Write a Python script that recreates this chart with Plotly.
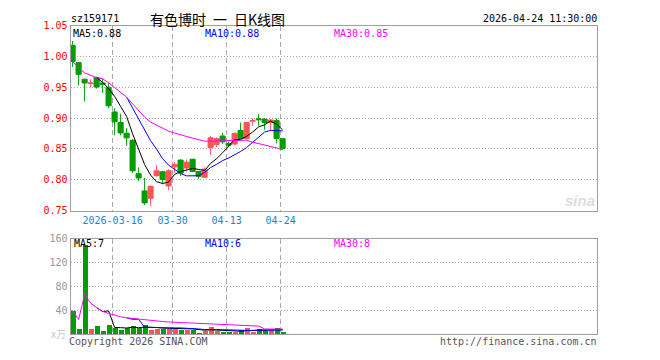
import plotly.graph_objects as go
import pandas as pd

# ---------------- data ----------------
dates = ["03-05", "03-06", "03-09", "03-10", "03-11", "03-12", "03-13", "03-16", "03-17", "03-18",
         "03-19", "03-20", "03-23", "03-24", "03-25", "03-26", "03-27", "03-30", "03-31", "04-01",
         "04-02", "04-03", "04-07", "04-08", "04-09", "04-10", "04-13", "04-14", "04-15", "04-16",
         "04-17", "04-20", "04-21", "04-22", "04-23", "04-24"]
opens = [1.018, 0.990, 0.963, 0.956, 0.966, 0.957, 0.950, 0.910, 0.893, 0.8755,
         0.864, 0.810, 0.782, 0.770, 0.8068, 0.813, 0.790, 0.821, 0.832, 0.819,
         0.8333, 0.8135, 0.804, 0.8526, 0.857, 0.871, 0.859, 0.858, 0.880, 0.867,
         0.895, 0.899, 0.8984, 0.893, 0.896, 0.8667]
highs = [1.025, 0.991, 0.964, 0.963, 0.967, 0.964, 0.958, 0.916, 0.907, 0.884,
         0.866, 0.820, 0.803, 0.790, 0.824, 0.8146, 0.817, 0.829, 0.833, 0.833,
         0.834, 0.814, 0.820, 0.871, 0.869, 0.876, 0.862, 0.877, 0.893, 0.894,
         0.900, 0.907, 0.900, 0.898, 0.900, 0.867]
lows = [0.983, 0.953, 0.927, 0.950, 0.948, 0.941, 0.916, 0.872, 0.872, 0.855,
        0.811, 0.798, 0.759, 0.758, 0.805, 0.7927, 0.783, 0.811, 0.806, 0.8135,
        0.8125, 0.8016, 0.803, 0.840, 0.853, 0.858, 0.853, 0.856, 0.866, 0.865,
        0.8875, 0.8875, 0.881, 0.880, 0.859, 0.849]
closes = [0.992, 0.971, 0.957, 0.957, 0.9505, 0.955, 0.920, 0.894, 0.876, 0.868,
          0.8146, 0.803, 0.7625, 0.7896, 0.8146, 0.8005, 0.8146, 0.825, 0.811, 0.8286,
          0.8135, 0.8057, 0.8172, 0.868, 0.8667, 0.8615, 0.856, 0.875, 0.867, 0.893,
          0.896, 0.8975, 0.893, 0.897, 0.867, 0.851]
volumes = [39.5, 9, 150, 9, 14, 6, 15, 10.5, 7.6, 11,
           13.5, 10.8, 15, 7, 8.5, 8.3, 8.5, 11, 8, 8,
           7.5, 2.2, 6, 11.5, 5, 3.6, 4.2, 4.3, 6.6, 10,
           4.3, 9.5, 6.5, 6.5, 11, 3.6]

price_ticks = [0.75, 0.80, 0.85, 0.90, 0.95, 1.00, 1.05]
price_ticktext = ["0.75", "0.80", "0.85", "0.90", "0.95", "1.00", "1.05"]
vol_ticks = [40, 80, 120, 160]
vol_ticktext = ["40", "80", "120", "160"]
date_tick_days = ["03-16", "03-30", "04-13", "04-24"]
date_tick_text = ["2026-03-16", "03-30", "04-13", "04-24"]

code = "sz159171"
title = "有色博时\u2002一\u2002日K线图"
stamp = "2026-04-24 11:30:00"
ma_labels = ["MA5:0.88", "MA10:0.88", "MA30:0.85"]
vol_ma_labels = ["MA5:7", "MA10:6", "MA30:8"]

# ---------------- derived ----------------
xs = list(range(len(dates)))
cs = pd.Series(closes)
ma5 = cs.rolling(5).mean()
ma10 = cs.rolling(10).mean()
ma30 = cs.rolling(30, min_periods=1).mean()
vs = pd.Series(volumes)
vma5 = vs.rolling(5).mean()
vma10 = vs.rolling(10).mean()
vma30 = vs.rolling(30, min_periods=1).mean()

RED = "#ff5555"
GREEN = "#009c00"
vol_colors = [RED if c >= o else GREEN for o, c in zip(opens, closes)]
tickpos = [dates.index(d) - 0.33 for d in date_tick_days]

W, H = 660, 360
def px(x):
    return x / W
def py(y):
    return 1 - y / H

MONO = "DejaVu Sans Mono"

fig = go.Figure()
fig.add_trace(go.Candlestick(
    x=xs, open=opens, high=highs, low=lows, close=closes,
    increasing=dict(line=dict(color=RED, width=1), fillcolor=RED),
    decreasing=dict(line=dict(color=GREEN, width=1), fillcolor=GREEN),
    whiskerwidth=0, hoverinfo="skip", showlegend=False, xaxis="x", yaxis="y"))
for s, col in [(ma5, "#000000"), (ma10, "#0000ff"), (ma30, "#ff00ff")]:
    fig.add_trace(go.Scatter(x=xs, y=s, mode="lines", line=dict(color=col, width=1),
                             hoverinfo="skip", showlegend=False, xaxis="x", yaxis="y"))

fig.add_trace(go.Bar(x=xs, y=volumes, marker=dict(color=vol_colors, line=dict(width=0)),
                     width=0.83, hoverinfo="skip", showlegend=False, xaxis="x2", yaxis="y2"))
for s, col in [(vma5, "#000000"), (vma10, "#0000ff"), (vma30, "#ff00ff")]:
    fig.add_trace(go.Scatter(x=xs, y=s, mode="lines", line=dict(color=col, width=1),
                             hoverinfo="skip", showlegend=False, xaxis="x2", yaxis="y2"))

xr = [-0.35, 87.4]
box_col = "#a0a0a0"
grid_col = "#a8a8a8"
common_x = dict(range=xr, showline=True, mirror=True, linecolor=box_col, linewidth=1,
                showgrid=True, gridcolor=grid_col, griddash="5px,3px", gridwidth=1,
                tickmode="array", tickvals=tickpos, ticks="", zeroline=False, fixedrange=True)
fig.update_layout(
    width=W, height=H, margin=dict(l=0, r=0, t=0, b=0),
    paper_bgcolor="white", plot_bgcolor="white",
    boxgap=0.15, boxgroupgap=0, bargap=0,
    xaxis=dict(domain=[px(70.5), px(597)], anchor="y", rangeslider=dict(visible=False),
               ticktext=date_tick_text, tickfont=dict(family=MONO, size=10, color="#1a86d0"),
               **common_x),
    yaxis=dict(domain=[py(211.7), py(20.3)], anchor="x", range=[0.75, 1.05],
               showline=True, mirror=True, linecolor=box_col, linewidth=1,
               showgrid=True, gridcolor=grid_col, griddash="1px,2px", gridwidth=1,
               tickmode="array", tickvals=price_ticks, ticktext=price_ticktext,
               tickfont=dict(family=MONO, size=10, color="#ff0000"), ticks="",
               zeroline=False, fixedrange=True),
    xaxis2=dict(domain=[px(70.5), px(597)], anchor="y2", showticklabels=False, **common_x),
    yaxis2=dict(domain=[py(339.3), py(240.7)], anchor="x2", range=[0, 160],
                showline=True, mirror=True, linecolor=box_col, linewidth=1,
                showgrid=True, gridcolor=grid_col, griddash="1px,2px", gridwidth=1,
                tickmode="array", tickvals=vol_ticks, ticktext=vol_ticktext,
                tickfont=dict(family=MONO, size=10, color="#999999"), ticks="",
                zeroline=False, fixedrange=True),
)

def ann(text, x, y, xanchor="left", size=10, color="#000", family=MONO, **kw):
    fig.add_annotation(text=text, x=px(x), y=py(y), xref="paper", yref="paper",
                       xanchor=xanchor, yanchor="middle", showarrow=False,
                       font=dict(family=family, size=size, color=color), borderpad=0, **kw)

ann(code, 70, 13)
ann(title, 149, 13, size=14, family="Noto Sans CJK SC")
ann(stamp, 598, 13, xanchor="right")
ann(ma_labels[0], 72, 28)
ann(ma_labels[1], 204, 28, color="#0000ff")
ann(ma_labels[2], 333, 28, color="#ff00ff")
ann(vol_ma_labels[0], 73, 246)
ann(vol_ma_labels[1], 204, 246, color="#0000ff")
ann(vol_ma_labels[2], 333, 246, color="#ff00ff")
ann("x万", 67, 339, xanchor="right", color="#c8c8c8", family="Noto Sans CJK SC")
ann("Copyright 2026 SINA.COM", 68, 347, color="#555555")
ann("http://finance.sina.com.cn", 598, 347, xanchor="right", color="#555555")
ann("<b><i>sina</i></b>", 596, 201, xanchor="right", size=15, color="#dcdcdc", family="Arial")

fig.write_html("out.html", config={"displayModeBar": False},
               post_script="document.body.style.margin='0';document.body.style.overflow='hidden';")
